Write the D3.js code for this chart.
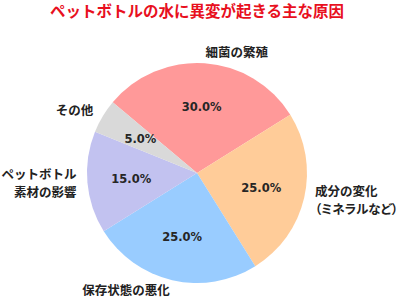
<!DOCTYPE html>
<html>
<head>
<meta charset="utf-8">
<script src="https://cdn.jsdelivr.net/npm/d3@7"></script>
<style>
  html, body { margin: 0; padding: 0; background: #fff; }
  svg text { font-family: "Noto Sans CJK JP", "Noto Sans", sans-serif; }
  .palt { font-feature-settings: "palt" 1; }
</style>
</head>
<body>
<div id="chart"></div>
<script>
// Data
const categories = ['細菌の繁殖', '成分の変化\n（ミネラルなど）', '保存状態の悪化', 'ペットボトル\n素材の影響', 'その他'];
const shares = [30, 25, 25, 15, 5];
const sliceColors = ['#ff9999', '#ffcc99', '#99ccff', '#c2c2f0', '#d9d9d9'];
const title = 'ペットボトルの水に異変が起きる主な原因';

const W = 398, H = 300;
const cx = 197, cy = 173, R = 110;

const svg = d3.select('#chart').append('svg')
  .attr('width', W).attr('height', H);

svg.append('text')
  .attr('x', 197).attr('y', 17)
  .attr('text-anchor', 'middle')
  .attr('fill', '#e8101e')
  .attr('font-size', 15.5)
  .attr('font-weight', 'bold')
  .text(title);

// start at 140deg (math), clockwise
const start = (90 - 140) * Math.PI / 180;
const pie = d3.pie().sort(null).startAngle(start).endAngle(start + 2 * Math.PI);
const arcs = pie(shares);
const arc = d3.arc().innerRadius(0).outerRadius(R);

const g = svg.append('g').attr('transform', `translate(${cx},${cy})`);

g.selectAll('path.slice')
  .data(arcs)
  .join('path')
    .attr('class', 'slice')
    .attr('d', arc)
    .attr('fill', (d, i) => sliceColors[i]);

// percent labels at 0.6 R
g.selectAll('text.pct')
  .data(arcs)
  .join('text')
    .attr('class', 'pct')
    .attr('transform', d => {
      const a = (d.startAngle + d.endAngle) / 2;
      return `translate(${Math.sin(a) * R * 0.6},${-Math.cos(a) * R * 0.6})`;
    })
    .attr('text-anchor', 'middle')
    .attr('dy', '0.35em')
    .attr('font-size', 11.5)
    .attr('font-weight', 'bold')
    .attr('fill', '#262626')
    .style('font-family', '"DejaVu Sans", sans-serif')
    .text(d => d.data.toFixed(1) + '%');

// category labels at 1.1 R
const lineH = 18;
arcs.forEach((d, i) => {
  const a = (d.startAngle + d.endAngle) / 2;
  const x = Math.sin(a) * R * 1.1;
  const y = -Math.cos(a) * R * 1.1;
  const lines = categories[i].split('\n');
  const t = g.append('text')
    .attr('x', x).attr('y', y)
    .attr('text-anchor', x >= 0 ? 'start' : 'end')
    .attr('font-size', 12.5)
    .attr('font-weight', 'bold')
    .attr('fill', '#222');
  lines.forEach((ln, k) => {
    t.append('tspan')
      .attr('class', ln.startsWith('（') ? 'palt' : null)
      .attr('x', x)
      .attr('y', y + (k - (lines.length - 1) / 2) * lineH)
      .attr('dy', '0.35em')
      .text(ln);
  });
});
</script>
</body>
</html>
